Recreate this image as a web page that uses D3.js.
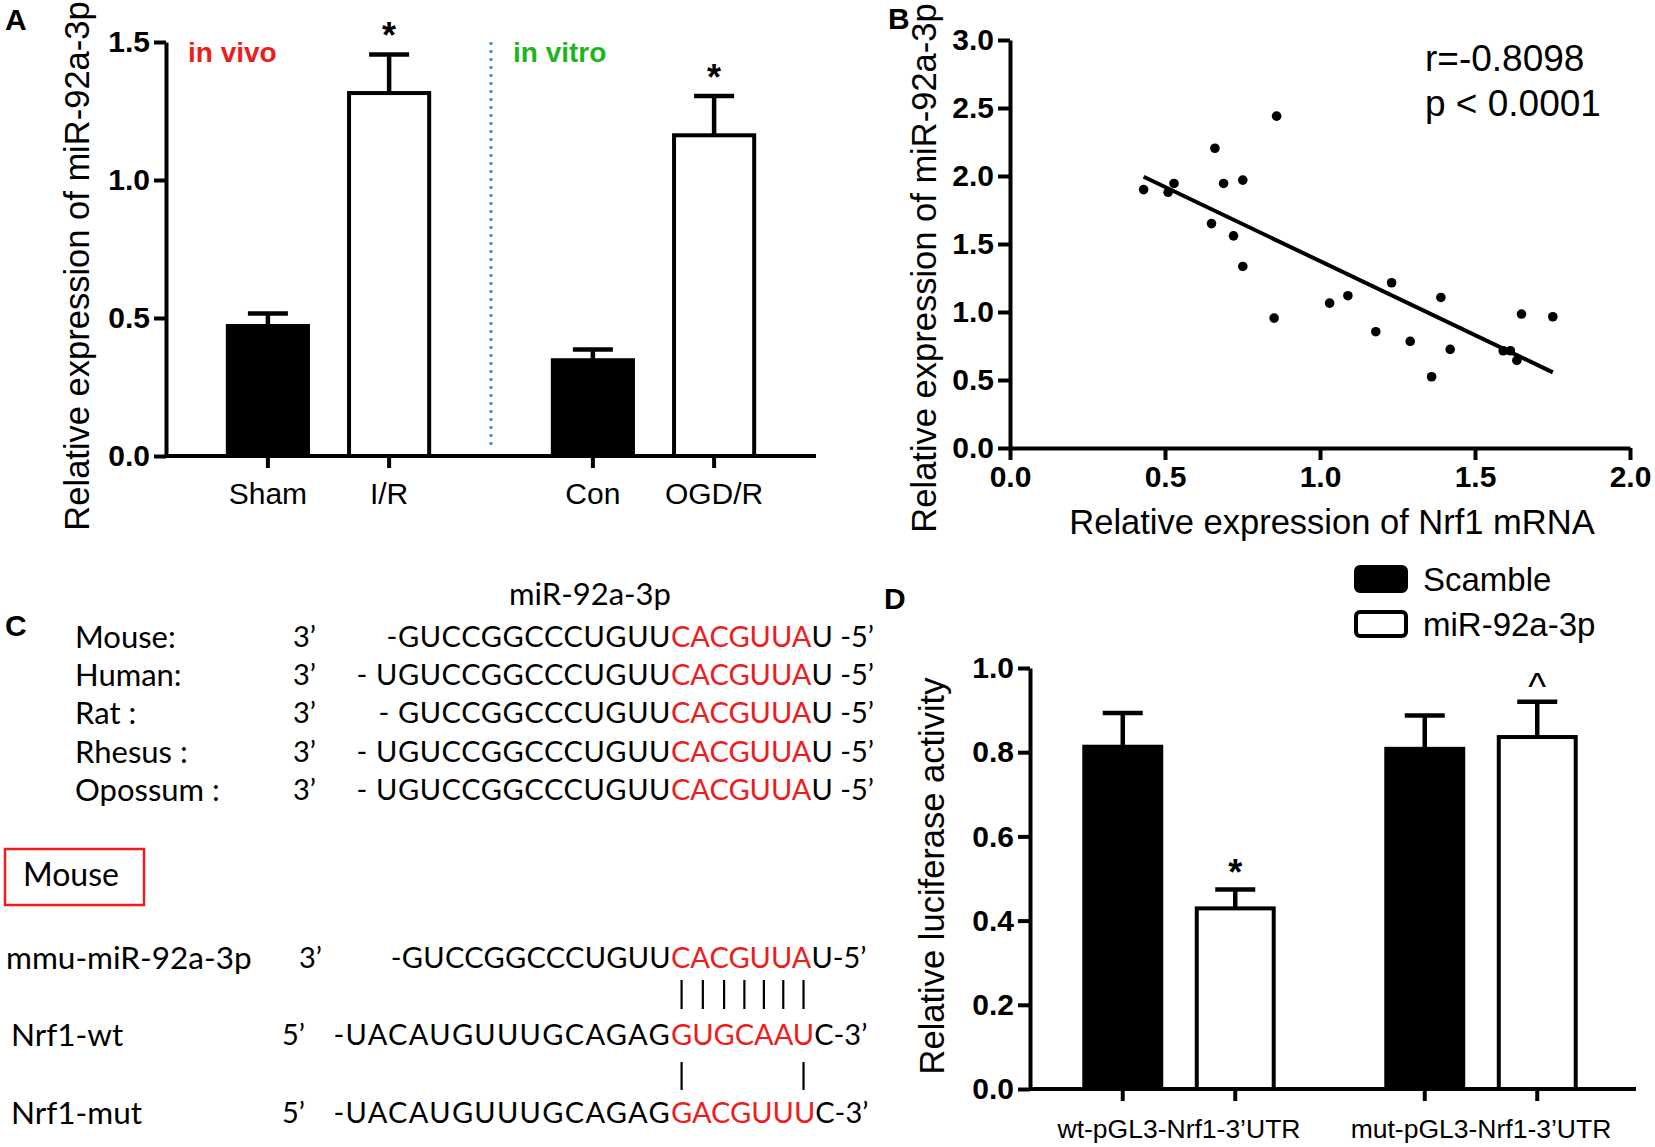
<!DOCTYPE html>
<html>
<head>
<meta charset="utf-8">
<title>miR-92a-3p / Nrf1</title>
<style>
  body { margin: 0; background: #fff; }
  svg { display: block; }
</style>
</head>
<body>
<div id="chart"></div>
<script src="https://cdn.jsdelivr.net/npm/d3@7"></script>
<script>
// ---------- data ----------
// panel A
var groupsA = ['in vivo', 'in vitro'];
var catsA = ['Sham', 'I/R', 'Con', 'OGD/R'];
var meanA = [0.471, 1.315, 0.347, 1.162];
var semA = [0.045, 0.140, 0.039, 0.142];
var sigA = ['', '*', '', '*'];
var ticksA = [0, 0.5, 1.0, 1.5];

// panel B
var nrf1 = [0.431, 0.510, 0.529, 0.661, 0.689, 0.751, 0.860, 0.650, 0.721, 0.751, 0.852, 1.031,
            1.090, 1.231, 1.180, 1.291, 1.390, 1.420, 1.360, 1.591, 1.614, 1.635, 1.650, 1.751];
var mir92 = [1.900, 1.880, 1.945, 2.204, 1.945, 1.970, 2.440, 1.650, 1.560, 1.335, 0.955, 1.065,
             1.120, 1.215, 0.855, 0.784, 1.107, 0.725, 0.524, 0.715, 0.715, 0.644, 0.985, 0.965];
var ticksBx = [0, 0.5, 1.0, 1.5, 2.0];
var ticksBy = [0, 0.5, 1.0, 1.5, 2.0, 2.5, 3.0];
var statsB = ['r=-0.8098', 'p < 0.0001'];

// panel C
var species = ['Mouse:', 'Human:', 'Rat :', 'Rhesus :', 'Opossum :'];
var speciesPre = ['-GUCCGGCCCUGUU', '- UGUCCGGCCCUGUU', '- GUCCGGCCCUGUU', '- UGUCCGGCCCUGUU', '- UGUCCGGCCCUGUU'];
var seedMir = 'CACGUUA';
var seqRows = ['mmu-miR-92a-3p', 'Nrf1-wt', 'Nrf1-mut'];
var seqEnd = ['3’', '5’', '5’'];
var seqPre = ['-GUCCGGCCCUGUU', '-UACAUGUUUGCAGAG', '-UACAUGUUUGCAGAG'];
var seqSeed = ['CACGUUA', 'GUGCAAU', 'GACGUUU'];
var seqPost = ['U-5’', 'C-3’', 'C-3’'];
var matchWt = [1, 1, 1, 1, 1, 1, 1];
var matchMut = [1, 0, 0, 0, 0, 0, 1];

// panel D
var groupsD = ['wt-pGL3-Nrf1-3’UTR', 'mut-pGL3-Nrf1-3’UTR'];
var seriesD = ['Scamble', 'miR-92a-3p'];
var scambleD = [0.813, 0.808];
var mirD = [0.429, 0.836];
var scambleSem = [0.080, 0.079];
var mirSem = [0.045, 0.084];
var sigD = ['*', '^'];
var ticksD = [0, 0.2, 0.4, 0.6, 0.8, 1.0];

// ---------- setup ----------
var W = 1655, H = 1147;
var FONT = '"Liberation Sans", Arial, sans-serif';
var CFONT = 'Lato, "Open Sans", sans-serif';
var RED = '#ee1c1c';
var fmt = d3.format('.1f');

var svg = d3.select('#chart').append('svg')
    .attr('width', W).attr('height', H)
    .style('font-family', FONT);

function panelLetter(t, x, y) {
    svg.append('text').attr('x', x).attr('y', y)
        .style('font-size', '30px').style('font-weight', 'bold').text(t);
}

function yAxis(y, x0, ticks) {
    var g = svg.append('g').attr('transform', 'translate(' + x0 + ',0)')
        .call(d3.axisLeft(y).tickValues(ticks).tickFormat(fmt).tickSize(12).tickSizeOuter(0).tickPadding(4));
    g.selectAll('path, line').attr('stroke', '#000').attr('stroke-width', 4);
    g.selectAll('text').style('font-size', '30px').style('font-weight', 'bold')
        .style('font-family', FONT).attr('fill', '#000');
    return g;
}

function yTitle(t, x, y) {
    svg.append('text').attr('transform', 'translate(' + x + ',' + y + ') rotate(-90)')
        .attr('text-anchor', 'middle').style('font-size', '34.5px').text(t);
}

// bar + error bar helper
function drawBar(g, x, w, y, v, e, black) {
    g.append('rect')
        .attr('x', x).attr('y', y(v)).attr('width', w).attr('height', y(0) - y(v))
        .attr('fill', black ? '#000' : '#fff').attr('stroke', '#000').attr('stroke-width', 4);
    var cx = x + w / 2;
    g.append('line').attr('x1', cx).attr('x2', cx).attr('y1', y(v)).attr('y2', y(v + e))
        .attr('stroke', '#000').attr('stroke-width', 4.5);
    g.append('line').attr('x1', cx - 20).attr('x2', cx + 20).attr('y1', y(v + e)).attr('y2', y(v + e))
        .attr('stroke', '#000').attr('stroke-width', 4.5);
}

/*-----------------------------------------------------------------------
    Panel A
-----------------------------------------------------------------------*/
panelLetter('A', 5, 30);
var yA = d3.scaleLinear().domain([0, 1.5]).range([456, 42]);
var xA = d3.scaleBand().domain(groupsA).range([166, 816]).paddingInner(0.254).paddingOuter(0.127);
var xAin = d3.scaleBand().domain([0, 1]).range([0, xA.bandwidth()]).paddingInner(0.339).paddingOuter(0.1695);

var gA = svg.append('g');
catsA.forEach(function (c, i) {
    var gx = xA(groupsA[Math.floor(i / 2)]) + xAin(i % 2);
    drawBar(gA, gx, xAin.bandwidth(), yA, meanA[i], semA[i], i % 2 === 0);
    var cx = gx + xAin.bandwidth() / 2;
    gA.append('line').attr('x1', cx).attr('x2', cx).attr('y1', yA(0)).attr('y2', yA(0) + 12)
        .attr('stroke', '#000').attr('stroke-width', 4);
    gA.append('text').attr('x', cx).attr('y', 504).attr('text-anchor', 'middle')
        .style('font-size', '30px').text(c);
    if (sigA[i]) {
        gA.append('text').attr('x', cx).attr('y', yA(meanA[i] + semA[i]) - 6).attr('text-anchor', 'middle')
            .style('font-size', '36px').style('font-weight', 'bold').text(sigA[i]);
    }
});
// x axis line
gA.append('line').attr('x1', 166).attr('x2', 816).attr('y1', yA(0)).attr('y2', yA(0))
    .attr('stroke', '#000').attr('stroke-width', 4);
yAxis(yA, 166, ticksA);
yTitle('Relative expression of miR-92a-3p', 89, 266);

// divider between in vivo / in vitro
var divX = xA(groupsA[1]) - xA.step() * xA.paddingInner() / 2;
gA.append('line').attr('x1', divX).attr('x2', divX).attr('y1', yA(1.5)).attr('y2', yA(0) - 6)
    .attr('stroke', '#4a8fdc').attr('stroke-width', 3).attr('stroke-dasharray', '3,5');
gA.append('text').attr('x', 188).attr('y', 62).attr('fill', RED)
    .style('font-size', '28px').style('font-weight', 'bold').text(groupsA[0]);
gA.append('text').attr('x', 513).attr('y', 62).attr('fill', '#1db51d')
    .style('font-size', '28px').style('font-weight', 'bold').text(groupsA[1]);

/*-----------------------------------------------------------------------
    Panel B
-----------------------------------------------------------------------*/
panelLetter('B', 888, 29);
var xB = d3.scaleLinear().domain([0, 2]).range([1010, 1630]);
var yB = d3.scaleLinear().domain([0, 3]).range([448, 40]);
var gBx = svg.append('g').attr('transform', 'translate(0,' + yB(0) + ')')
    .call(d3.axisBottom(xB).tickValues(ticksBx).tickFormat(fmt).tickSize(12).tickSizeOuter(0).tickPadding(6));
gBx.selectAll('path, line').attr('stroke', '#000').attr('stroke-width', 4);
gBx.selectAll('text').style('font-size', '30px').style('font-weight', 'bold')
    .style('font-family', FONT).attr('fill', '#000');
yAxis(yB, 1010, ticksBy);
yTitle('Relative expression of miR-92a-3p', 936, 268);
svg.append('text').attr('x', 1332).attr('y', 534).attr('text-anchor', 'middle')
    .style('font-size', '34.5px').text('Relative expression of Nrf1 mRNA');

// least squares fit from the points
var mx = d3.mean(nrf1), my = d3.mean(mir92);
var sxy = d3.sum(nrf1, function (v, i) { return (v - mx) * (mir92[i] - my); });
var sxx = d3.sum(nrf1, function (v) { return (v - mx) * (v - mx); });
var slope = sxy / sxx, icpt = my - slope * mx;
var xr = d3.extent(nrf1);
svg.append('line')
    .attr('x1', xB(xr[0])).attr('y1', yB(icpt + slope * xr[0]))
    .attr('x2', xB(xr[1])).attr('y2', yB(icpt + slope * xr[1]))
    .attr('stroke', '#000').attr('stroke-width', 4);
svg.append('g').selectAll('circle').data(nrf1).enter().append('circle')
    .attr('cx', function (d) { return xB(d); })
    .attr('cy', function (d, i) { return yB(mir92[i]); })
    .attr('r', 4.8).attr('fill', '#000');
svg.selectAll('.stat').data(statsB).enter().append('text').attr('class', 'stat')
    .attr('x', 1425).attr('y', function (d, i) { return 71 + i * 45; })
    .style('font-size', '37px').text(function (d) { return d; });

/*-----------------------------------------------------------------------
    Panel C (sequence alignment)
-----------------------------------------------------------------------*/
panelLetter('C', 5, 636);
var redX = 671;
var gC = svg.append('g').style('font-family', CFONT).style('font-size', '29px');
gC.append('text').attr('x', 590).attr('y', 605).attr('text-anchor', 'middle')
    .style('font-size', '31px').text('miR-92a-3p');

function seqLine(yc, pre, seed, post, spacing) {
    gC.append('text').attr('x', redX).attr('y', yc).attr('dy', '0.35em').attr('text-anchor', 'end')
        .style('letter-spacing', spacing + 'px').text(pre);
    var s = gC.append('text').attr('x', redX).attr('y', yc).attr('dy', '0.35em').attr('fill', RED).text(seed);
    var len = s.node().getComputedTextLength();
    gC.append('text').attr('x', redX + len).attr('y', yc).attr('dy', '0.35em').text(post);
    return s;
}
var rowY = [637, 675, 713, 752, 790];
species.forEach(function (sp, i) {
    gC.append('text').attr('x', 75).attr('y', rowY[i]).attr('dy', '0.35em')
        .style('font-size', '31px').text(sp);
    gC.append('text').attr('x', 293).attr('y', rowY[i]).attr('dy', '0.35em').text('3’');
    seqLine(rowY[i], speciesPre[i], seedMir, 'U -5’', 0.6);
});

// "Mouse" box
gC.append('rect').attr('x', 5).attr('y', 849).attr('width', 139).attr('height', 56)
    .attr('fill', 'none').attr('stroke', RED).attr('stroke-width', 2.5);
gC.append('text').attr('x', 23).attr('y', 875).attr('dy', '0.35em')
    .style('font-size', '32px').text('Mouse');

var seqY = [958, 1035, 1113];
var endX = [299, 282, 282];
var seedEls = [];
seqRows.forEach(function (nm, i) {
    gC.append('text').attr('x', i === 0 ? 6 : 11).attr('y', seqY[i]).attr('dy', '0.35em')
        .style('font-size', '31.5px').text(nm);
    gC.append('text').attr('x', endX[i]).attr('y', seqY[i]).attr('dy', '0.35em').text(seqEnd[i]);
    seedEls.push(seqLine(seqY[i], seqPre[i], seqSeed[i], seqPost[i], i === 0 ? 0.3 : 1.3));
});

// base pairing ticks at the seed letters
function pairTicks(el, match, y1, y2) {
    match.forEach(function (m, k) {
        if (!m) return;
        var b = el.node().getExtentOfChar(k);
        var cx = b.x + b.width / 2;
        gC.append('line').attr('x1', cx).attr('x2', cx).attr('y1', y1).attr('y2', y2)
            .attr('stroke', '#000').attr('stroke-width', 2.2);
    });
}
pairTicks(seedEls[1], matchWt, 980, 1009);
pairTicks(seedEls[1], matchMut, 1062, 1090);

/*-----------------------------------------------------------------------
    Panel D
-----------------------------------------------------------------------*/
panelLetter('D', 884, 609);
var yD = d3.scaleLinear().domain([0, 1]).range([1089, 668]);
var xD = d3.scaleBand().domain(groupsD).range([1028, 1632]).paddingInner(0.255).paddingOuter(0.1275);
var xDin = d3.scaleBand().domain(seriesD).range([0, xD.bandwidth()]).paddingInner(0.316).paddingOuter(0.158);

var gD = svg.append('g');
groupsD.forEach(function (grp, i) {
    var vals = [scambleD[i], mirD[i]], errs = [scambleSem[i], mirSem[i]];
    seriesD.forEach(function (s, j) {
        var bx = xD(grp) + xDin(s);
        drawBar(gD, bx, xDin.bandwidth(), yD, vals[j], errs[j], j === 0);
        var cx = bx + xDin.bandwidth() / 2;
        gD.append('line').attr('x1', cx).attr('x2', cx).attr('y1', yD(0)).attr('y2', yD(0) + 12)
            .attr('stroke', '#000').attr('stroke-width', 4);
        if (j === 1) {
            var star = sigD[i] === '*';
            gD.append('text').attr('x', cx).attr('y', yD(vals[j] + errs[j]) - (star ? 4 : 2))
                .attr('text-anchor', 'middle')
                .style('font-size', star ? '36px' : '38px')
                .style('font-weight', star ? 'bold' : 'normal').text(sigD[i]);
        }
    });
    gD.append('text').attr('x', xD(grp) + xD.bandwidth() / 2).attr('y', 1138).attr('text-anchor', 'middle')
        .style('font-size', '26.5px').text(grp);
});
gD.append('line').attr('x1', 1030).attr('x2', 1636).attr('y1', yD(0)).attr('y2', yD(0))
    .attr('stroke', '#000').attr('stroke-width', 4);
yAxis(yD, 1030, ticksD);
yTitle('Relative luciferase activity', 944, 876);

// legend
var leg = svg.append('g').attr('transform', 'translate(1356,567)');
seriesD.forEach(function (s, j) {
    leg.append('rect').attr('x', 0).attr('y', j * 45).attr('width', 50).attr('height', 24).attr('rx', 4)
        .attr('fill', j === 0 ? '#000' : '#fff').attr('stroke', '#000').attr('stroke-width', 4);
    leg.append('text').attr('x', 67).attr('y', j * 45 + 12).attr('dy', '0.36em')
        .style('font-size', '33px').text(s);
});
</script>
</body>
</html>
